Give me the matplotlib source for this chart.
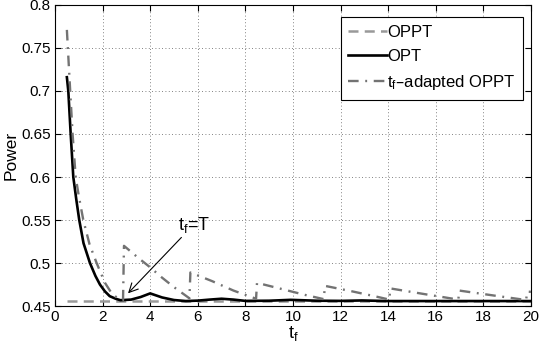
import numpy as np
import matplotlib.pyplot as plt

plt.rcParams['font.family'] = ['Liberation Sans', 'DejaVu Sans']
plt.rcParams['mathtext.default'] = 'regular'

# OPPT (periodic, fixed period)
oppt_x = [0.5, 20.0]
oppt_y = [0.4558, 0.4558]

# OPT
opt_x = [0.5, 0.56, 0.66, 0.77, 0.9, 1.02, 1.2, 1.47, 1.7, 1.89, 2.1, 2.3, 2.55, 2.75,
         3.2, 3.6, 4.0, 4.5, 5.0, 5.5, 6.0, 6.5, 7.0, 7.5, 8.0, 9.0, 9.9, 11.0, 12.0,
         12.9, 14.0, 16.0, 18.0, 20.0]
opt_y = [0.716, 0.70, 0.65, 0.60, 0.573, 0.55, 0.523, 0.50, 0.485, 0.475, 0.467, 0.4615,
         0.4585, 0.4568, 0.4575, 0.4605, 0.4647, 0.4600, 0.4570, 0.4558, 0.4563, 0.4575,
         0.4585, 0.4575, 0.4560, 0.4562, 0.4572, 0.4562, 0.4560, 0.4565, 0.4558, 0.4558,
         0.4558, 0.4558]

# tf-adapted OPPT
adapt_x = [0.5, 0.6, 0.74, 0.87, 1.0, 1.19, 1.45, 1.75, 2.1, 2.4, 2.65, 2.86, 2.9, 3.5,
           4.0, 4.5, 5.0, 5.65, 5.69, 6.6, 7.5, 8.45, 8.49, 9.5, 10.5, 11.3, 11.34, 12.5,
           13.5, 14.05, 14.09, 15.5, 16.95, 16.99, 18.5, 19.8, 19.84, 20.0]
adapt_y = [0.771, 0.72, 0.65, 0.60, 0.578, 0.55, 0.522, 0.50, 0.477, 0.464, 0.459, 0.457,
           0.520, 0.506, 0.495, 0.483, 0.472, 0.459, 0.489, 0.479, 0.468, 0.4585, 0.477,
           0.470, 0.463, 0.458, 0.4735, 0.467, 0.461, 0.4575, 0.4705, 0.464, 0.4575, 0.468,
           0.462, 0.457, 0.4668, 0.4665]

fig = plt.figure(figsize=(5.39, 3.53), dpi=100)
ax = fig.add_axes([0.102, 0.133, 0.883, 0.853])

ax.plot(oppt_x, oppt_y, color='0.6', lw=1.8, dashes=(4.0, 2.5), label='OPPT')
ax.plot(opt_x, opt_y, color='black', lw=1.9, label='OPT')
ax.plot(adapt_x, adapt_y, color='0.45', lw=1.7, dashes=(4.5, 2.8, 0.8, 2.8),
        label='t$_\\mathregular{f}$–adapted OPPT')

ax.annotate('t$_\\mathregular{f}$=T', xy=(3.07, 0.4648), xytext=(5.15, 0.533),
            fontsize=13, va='bottom', ha='left',
            arrowprops=dict(arrowstyle='->', color='black', lw=0.8,
                            shrinkA=0, shrinkB=0, mutation_scale=16))

ax.set_xlim(0, 20)
ax.set_ylim(0.45, 0.8)
ax.set_xticks(np.arange(0, 21, 2))
ax.set_yticks([0.45, 0.5, 0.55, 0.6, 0.65, 0.7, 0.75, 0.8])
ax.set_yticklabels(['0.45', '0.5', '0.55', '0.6', '0.65', '0.7', '0.75', '0.8'])
ax.tick_params(direction='in', top=True, right=True, length=4, width=0.8,
               labelsize=11, pad=3)
ax.grid(True, color='0.35', linestyle=(0, (1, 3)), lw=0.6)
for s in ax.spines.values():
    s.set_linewidth(0.8)

ax.set_xlabel('t$_\\mathregular{f}$', fontsize=13, labelpad=0)
ax.set_ylabel('Power', fontsize=12.5, labelpad=2)

leg = ax.legend(loc='upper right', bbox_to_anchor=(0.984, 0.959), borderaxespad=0,
                fontsize=12, handlelength=2.3, handletextpad=0.05, labelspacing=0.55,
                borderpad=0.45, fancybox=False, framealpha=1, edgecolor='black')
leg.get_frame().set_linewidth(0.8)

fig.savefig('out.png', dpi=100)
